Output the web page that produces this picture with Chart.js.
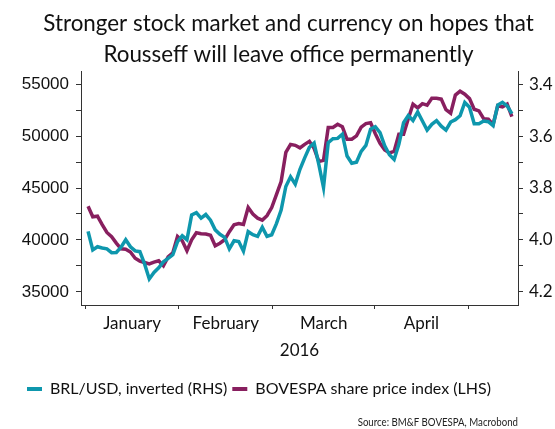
<!DOCTYPE html>
<html>
<head>
<meta charset="utf-8">
<script src="https://cdn.jsdelivr.net/npm/chart.js@4/dist/chart.umd.min.js"></script>
<style>
  html, body { margin: 0; padding: 0; background: #fff; }
  #wrap { width: 555px; height: 429px; }
</style>
</head>
<body>
<div id="wrap"><canvas id="grafico"></canvas></div>
<script>
// ==================== DATA ====================
// one point per trading day, 4 Jan 2016 to mid May 2016
const brlUsd = [
    3.967, 4.038, 4.026, 4.031, 4.034, 4.049, 4.048, 4.028, 3.999, 4.026,
    4.042, 4.045, 4.092, 4.150, 4.125, 4.107, 4.084, 4.071, 4.057, 4.006,
    3.984, 3.999, 3.904, 3.895, 3.916, 3.902, 3.924, 3.961, 3.978, 3.990,
    4.034, 4.003, 4.006, 4.043, 3.968, 3.980, 3.986, 3.951, 3.986, 3.980,
    3.937, 3.885, 3.794, 3.757, 3.785, 3.728, 3.684, 3.643, 3.627, 3.709,
    3.798, 3.625, 3.610, 3.609, 3.593, 3.677, 3.705, 3.701, 3.659, 3.636,
    3.574, 3.564, 3.587, 3.638, 3.672, 3.690, 3.632, 3.549, 3.521, 3.540,
    3.507, 3.542, 3.577, 3.555, 3.541, 3.562, 3.577, 3.546, 3.537, 3.522,
    3.471, 3.489, 3.553, 3.553, 3.542, 3.545, 3.560, 3.481, 3.470, 3.484,
    3.514
];
const bovespa = [
    43240, 42230, 42290, 41470, 40720, 40310, 39700, 39150, 39110, 38840,
    38240, 37970, 37830, 37690, 37870, 38000, 37510, 38380, 38770, 40340,
    39930, 38960, 40020, 40700, 40600, 40570, 40460, 39440, 39690, 40020,
    40800, 41470, 41590, 41500, 43120, 42490, 42100, 41910, 42340, 43120,
    44370, 45630, 48430, 49200, 49110, 48860, 49200, 49490, 48820, 47560,
    47660, 50820, 50820, 51140, 50890, 49690, 49690, 50020, 50850, 51200,
    51280, 50220, 49300, 48670, 48380, 48530, 50170, 50170, 51670, 53070,
    52710, 53120, 52970, 53630, 53630, 53550, 52540, 52200, 53940, 54320,
    54030, 53600, 52580, 52420, 51670, 51620, 51090, 52920, 52800, 53070,
    51860
];
// month boundaries (in trading-day index) and month names
const mesesInicio = [-0.6, 19.3, 39.2, 60.9, 80.7];
const mesesNomes = ['January', 'February', 'March', 'April'];
const mesesMeio = mesesNomes.map((m, i) => (mesesInicio[i] + mesesInicio[i + 1]) / 2);

// axis ticks (labels every other tick)
const ticksBovespa = [35000, 37500, 40000, 42500, 45000, 47500, 50000, 52500, 55000];
const ticksBrl = [3.4, 3.5, 3.6, 3.7, 3.8, 3.9, 4.0, 4.1, 4.2];

const titulo = ['Stronger stock market and currency on hopes that', 'Rousseff will leave office permanently'];
const fonte = 'Source: BM&F BOVESPA, Macrobond';

const COR_BRL = '#0e97ad';
const COR_BOV = '#881f5f';
const COR_EIXO = '#333333';

// ==================== CHART ====================
// source line, bottom right (condensed a bit like the original)
const pluginFonte = {
    id: 'fonte',
    afterDraw(chart) {
        const ctx = chart.ctx;
        ctx.save();
        ctx.font = '11.5px Lato';
        ctx.fillStyle = '#222';
        ctx.textAlign = 'right';
        ctx.textBaseline = 'middle';
        ctx.translate(chart.chartArea.right, 422);
        ctx.scale(0.84, 1);
        ctx.fillText(fonte, 0, 0);
        ctx.restore();
    }
};

new Chart(document.getElementById('grafico'), {
    type: 'line',
    data: {
        datasets: [
            {
                label: 'BRL/USD, inverted (RHS)',
                data: brlUsd.map((v, i) => ({ x: i, y: v })),
                yAxisID: 'y1',
                borderColor: COR_BRL,
                backgroundColor: COR_BRL,
                borderWidth: 3.5,
                pointRadius: 0,
                tension: 0
            },
            {
                label: 'BOVESPA share price index (LHS)',
                data: bovespa.map((v, i) => ({ x: i, y: v })),
                yAxisID: 'y',
                borderColor: COR_BOV,
                backgroundColor: COR_BOV,
                borderWidth: 3.5,
                pointRadius: 0,
                tension: 0
            }
        ]
    },
    options: {
        responsive: true,
        maintainAspectRatio: false,
        animation: false,
        layout: {
            padding: { left: 22, right: 0, top: 0, bottom: 22 }
        },
        plugins: {
            title: {
                display: true,
                text: titulo,
                color: '#111',
                font: { family: 'Lato', size: 22.4, weight: 'normal', lineHeight: 1.4 },
                padding: { top: 8, bottom: 1 }
            },
            legend: {
                display: true,
                position: 'bottom',
                align: 'start',
                labels: {
                    color: '#111',
                    font: { family: 'Lato', size: 16 },
                    boxWidth: 15,
                    boxHeight: 4,
                    padding: 5,
                    generateLabels: function(chart) {
                        return chart.data.datasets.map((d, i) => ({
                            text: d.label,
                            fillStyle: d.borderColor,
                            strokeStyle: d.borderColor,
                            lineWidth: 0,
                            fontColor: '#111',
                            datasetIndex: i
                        }));
                    }
                }
            },
            tooltip: { enabled: false }
        },
        scales: {
            x: {
                type: 'linear',
                min: -1.5,
                max: 91.3,
                afterFit: function(scale) { scale.height = 71; },
                afterBuildTicks: function(scale) {
                    scale.ticks = mesesInicio.concat(mesesMeio).map(v => ({ value: v }));
                },
                ticks: {
                    autoSkip: false,
                    maxRotation: 0,
                    padding: 4,
                    color: '#111',
                    font: { family: 'Lato', size: 17 },
                    callback: function(value) {
                        const i = mesesMeio.indexOf(value);
                        return i >= 0 ? mesesNomes[i] : '';
                    }
                },
                grid: {
                    drawOnChartArea: false,
                    tickLength: 4,
                    tickColor: function(context) {
                        return mesesInicio.includes(context.tick.value) ? COR_EIXO : 'rgba(0,0,0,0)';
                    }
                },
                border: { display: true, color: COR_EIXO, width: 1 },
                title: {
                    display: true,
                    text: '2016',
                    color: '#111',
                    font: { family: 'Lato', size: 17 },
                    padding: { top: 0, bottom: 15 }
                }
            },
            y: {
                type: 'linear',
                position: 'left',
                min: 33744,
                max: 56190,
                afterFit: function(scale) { scale.width = 59; },
                afterBuildTicks: function(scale) {
                    scale.ticks = ticksBovespa.map(v => ({ value: v }));
                },
                ticks: {
                    autoSkip: false,
                    padding: 7,
                    color: '#111',
                    font: { family: 'Liberation Sans', size: 17 },
                    callback: function(value, index) {
                        return index % 2 === 0 ? String(value) : '';
                    }
                },
                grid: { drawOnChartArea: false, tickLength: 5, tickColor: COR_EIXO },
                border: { display: true, color: COR_EIXO, width: 1 }
            },
            y1: {
                type: 'linear',
                position: 'right',
                reverse: true,
                min: 3.3525,
                max: 4.2502,
                afterFit: function(scale) { scale.width = 37; },
                afterBuildTicks: function(scale) {
                    scale.ticks = ticksBrl.map(v => ({ value: v }));
                },
                ticks: {
                    autoSkip: false,
                    padding: 6,
                    color: '#111',
                    font: { family: 'Lato', size: 17 },
                    callback: function(value, index) {
                        return index % 2 === 0 ? value.toFixed(1) : '';
                    }
                },
                grid: { drawOnChartArea: false, tickLength: 5, tickColor: COR_EIXO },
                border: { display: true, color: COR_EIXO, width: 1 }
            }
        }
    },
    plugins: [pluginFonte]
});
</script>
</body>
</html>
